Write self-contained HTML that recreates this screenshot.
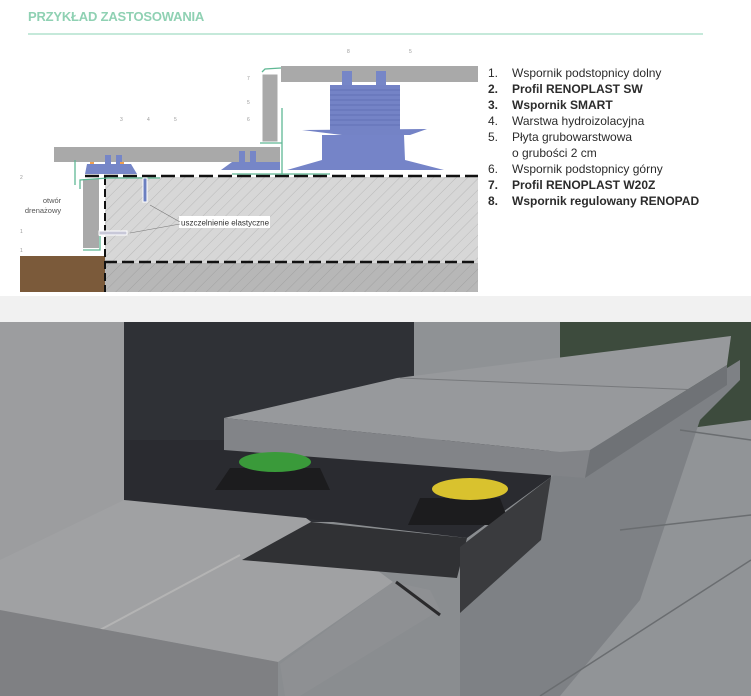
<!DOCTYPE html>
<html><head><meta charset="utf-8"><style>
html,body{margin:0;padding:0;background:#fff;}
body{width:751px;height:696px;position:relative;overflow:hidden;font-family:"Liberation Sans","Noto Sans CJK SC",sans-serif;}
.h{position:absolute;left:28px;top:9px;font-size:13px;font-weight:bold;color:#8fd1b3;letter-spacing:-0.2px;}
.ln{position:absolute;left:28px;top:33px;width:675px;height:2px;background:#c5e9da;}
.leg{position:absolute;left:488px;top:65px;font-size:12px;color:#2b2b2b;line-height:16px;}
.leg div{position:relative;padding-left:24px;white-space:nowrap;}
.leg span{position:absolute;left:0;}
.b{font-weight:bold;}
</style></head><body>
<div class="h">PRZYKŁAD ZASTOSOWANIA</div>
<div class="ln"></div>
<svg width="751" height="696" style="position:absolute;left:0;top:0">
<defs>
<pattern id="hat" width="8" height="8" patternUnits="userSpaceOnUse" patternTransform="rotate(45)">
<rect width="8" height="8" fill="#d7d7d7"/><line x1="0" y1="0" x2="0" y2="8" stroke="#b9b9b9" stroke-width="1"/></pattern>
<pattern id="hat2" width="8" height="8" patternUnits="userSpaceOnUse" patternTransform="rotate(45)">
<rect width="8" height="8" fill="#b7b7b7"/><line x1="0" y1="0" x2="0" y2="8" stroke="#a2a2a2" stroke-width="1"/></pattern>
</defs>
<!-- diagram -->
<rect x="105" y="177" width="373" height="86" fill="url(#hat)"/>
<rect x="105" y="263" width="373" height="29" fill="url(#hat2)"/>
<rect x="20" y="256" width="85" height="36" fill="#7b5a3a"/>
<line x1="105" y1="177" x2="105" y2="292" stroke="#111" stroke-width="2" stroke-dasharray="8,4"/>
<line x1="85" y1="176" x2="478" y2="176" stroke="#111" stroke-width="2.5" stroke-dasharray="14,5"/>
<line x1="105" y1="262" x2="478" y2="262" stroke="#111" stroke-width="2.5" stroke-dasharray="12,5"/>
<rect x="281" y="66" width="197" height="16" fill="#a9a9a9"/>
<rect x="262" y="74" width="16" height="68" fill="#a9a9a9" stroke="#fff"/>
<rect x="54" y="147" width="226" height="15" fill="#a9a9a9"/>
<rect x="83" y="179" width="16" height="69" fill="#a9a9a9"/>
<rect x="342" y="71" width="10" height="14" fill="#7686c7"/>
<rect x="376" y="71" width="10" height="14" fill="#7686c7"/>
<rect x="330" y="85" width="70" height="45" fill="#7483c6"/>
<g stroke="#5d6bb0" stroke-width="0.7">
<line x1="330" y1="90" x2="400" y2="90"/><line x1="330" y1="95" x2="400" y2="95"/><line x1="330" y1="100" x2="400" y2="100"/><line x1="330" y1="105" x2="400" y2="105"/><line x1="330" y1="110" x2="400" y2="110"/><line x1="330" y1="115" x2="400" y2="115"/><line x1="330" y1="120" x2="400" y2="120"/><line x1="330" y1="125" x2="400" y2="125"/></g>
<polygon points="302,130 427,129 410,135 342,135" fill="#7483c6"/>
<polygon points="322,135 404,135 405,160 444,170 287,170 322,160" fill="#7584c8"/>
<rect x="105" y="155" width="6" height="9" fill="#7686c7"/><rect x="116" y="155" width="6" height="9" fill="#7686c7"/>
<polygon points="87,164 131,164 137,174 85,174" fill="#7686c7"/>
<rect x="90" y="162" width="4" height="2" fill="#f0a050"/><rect x="120" y="162" width="4" height="2" fill="#f0a050"/>
<rect x="239" y="151" width="6" height="11" fill="#7686c7"/><rect x="250" y="151" width="6" height="11" fill="#7686c7"/>
<polygon points="232,162 280,162 280,170 221,170" fill="#7686c7"/>
<g stroke="#5fb894" stroke-width="1.3" fill="none">
<polyline points="262,72 265,69 281,68"/><polyline points="282,108 282,175"/><polyline points="260,143 282,143"/>
<polyline points="75,160 75,185"/><polyline points="80,189 80,180 108,178 160,178"/><polyline points="83,250 100,250 100,236"/>
<polyline points="232,174 330,174"/></g>
<rect x="143" y="178" width="4" height="24" fill="#6b7fc0" stroke="#fff"/>
<rect x="99" y="231" width="28" height="4" fill="#c8c8d8" stroke="#fff"/>
<rect x="179" y="216" width="91" height="12" fill="#fff"/>
<text x="181" y="225.5" font-size="8" fill="#333">uszczelnienie elastyczne</text>
<line x1="150" y1="205" x2="180" y2="222" stroke="#777" stroke-width="0.6"/>
<line x1="130" y1="233" x2="180" y2="224" stroke="#777" stroke-width="0.6"/>
<text x="52" y="203" font-size="7.5" fill="#555" text-anchor="middle">otwór</text>
<text x="43" y="213" font-size="7.5" fill="#555" text-anchor="middle">drenażowy</text>
<g font-size="5" fill="#999"><text x="20" y="179">2</text><text x="20" y="233">1</text><text x="20" y="252">1</text><text x="247" y="80">7</text><text x="247" y="104">5</text><text x="247" y="121">6</text><text x="120" y="121">3</text><text x="147" y="121">4</text><text x="174" y="121">5</text><text x="347" y="53">8</text><text x="409" y="53">5</text></g>
<rect x="0" y="296" width="751" height="26" fill="#f1f1f1"/>
<!-- photo -->
<rect x="0" y="322" width="751" height="374" fill="#8a8d90"/>
<rect x="555" y="322" width="196" height="110" fill="#3d4b3d"/>
<rect x="400" y="322" width="160" height="70" fill="#8f9295"/>
<rect x="0" y="322" width="124" height="300" fill="#9c9d9f"/>
<rect x="124" y="322" width="290" height="200" fill="#2f3136"/>
<polygon points="124,500 300,518 467,538 551,477 551,440 124,440" fill="#2a2b30"/>
<!-- right floor & riser -->
<polygon points="551,477 600,440 751,420 751,696 560,696" fill="#919497"/>
<polygon points="551,477 740,360 740,380 700,420 640,600 560,696 460,696 460,547" fill="#7e8185"/>
<line x1="540" y1="696" x2="751" y2="560" stroke="#6a6d70" stroke-width="1.5"/>
<line x1="620" y1="530" x2="751" y2="515" stroke="#6a6d70" stroke-width="1.5"/>
<line x1="680" y1="430" x2="751" y2="440" stroke="#6a6d70" stroke-width="1.5"/>
<!-- tread -->
<polygon points="224,418 397,378 731,336 727,365 590,450 560,452" fill="#97999c"/>
<line x1="400" y1="378" x2="700" y2="390" stroke="#77797c" stroke-width="1"/>
<polygon points="224,418 560,452 590,450 585,478 224,450" fill="#828488"/>
<polygon points="590,450 727,365 727,385 585,478" fill="#6f7276"/>
<!-- supports -->
<polygon points="215,490 330,490 320,468 230,468" fill="#1c1c1e"/>
<ellipse cx="275" cy="462" rx="36" ry="10" fill="#3a9a3a"/>
<polygon points="408,525 510,525 500,498 420,498" fill="#1c1c1e"/>
<ellipse cx="470" cy="489" rx="38" ry="11" fill="#d9c22e"/>
<!-- lower step -->
<polygon points="0,560 124,500 306,518 393,582 278,662 0,610" fill="#a0a1a3"/>
<line x1="100" y1="630" x2="240" y2="555" stroke="#b4b4b4" stroke-width="2"/>
<polygon points="0,610 278,662 278,696 0,696" fill="#7f8083"/>
<polygon points="280,664 393,582 430,590 440,610 300,696 285,696" fill="#8e9093"/>
<polygon points="242,560 311,522 467,538 457,578" fill="#303134"/>
<polygon points="460,547 551,477 541,540 460,613" fill="#3a3b3e"/>
<line x1="396" y1="582" x2="440" y2="615" stroke="#2a2a2c" stroke-width="3"/>
</svg>
<div class="leg">
<div><span>1.</span>Wspornik podstopnicy dolny</div>
<div class="b"><span>2.</span>Profil RENOPLAST SW</div>
<div class="b"><span>3.</span>Wspornik SMART</div>
<div><span>4.</span>Warstwa hydroizolacyjna</div>
<div><span>5.</span>Płyta grubowarstwowa</div>
<div>o grubości 2 cm</div>
<div><span>6.</span>Wspornik podstopnicy górny</div>
<div class="b"><span>7.</span>Profil RENOPLAST W20Z</div>
<div class="b"><span>8.</span>Wspornik regulowany RENOPAD</div>
</div>
</body></html>
